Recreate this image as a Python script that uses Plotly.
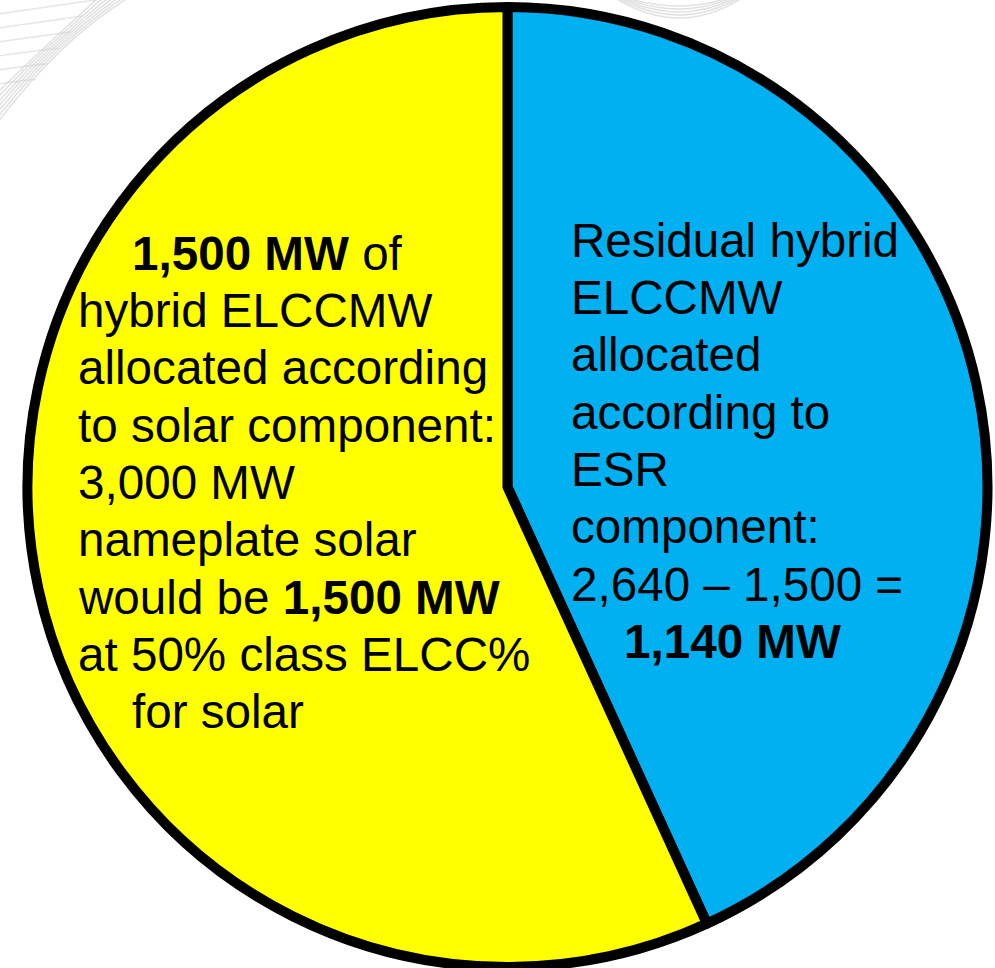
import plotly.graph_objects as go

# ---- data ----
slice_labels = ["Residual hybrid ELCCMW (ESR component)", "Hybrid ELCCMW allocated to solar component"]
slice_values = [1140, 1500]
slice_colors = ["#00B0F0", "#FFFF00"]

left_lines = [
    "<b>1,500 MW</b> of",
    "hybrid ELCCMW",
    "allocated according",
    "to solar component:",
    "3,000 MW",
    "nameplate solar",
    "would be <b>1,500 MW</b>",
    "at 50% class ELCC%",
    "for solar",
]
left_indent = [1, 0, 0, 0, 0, 0, 0, 0, 1]

right_lines = [
    "Residual hybrid",
    "ELCCMW",
    "allocated",
    "according to",
    "ESR",
    "component:",
    "2,640 \u2013 1,500 =",
    "<b>1,140 MW</b>",
]
right_indent = [0, 0, 0, 0, 0, 0, 0, 1]

W, H = 995, 968
FS = 47.6
FONT = "Liberation Sans, Arial, sans-serif"


def px2paper(x, y):
    """page pixel -> paper fraction"""
    return x / W, 1 - y / H


fig = go.Figure()
fig.add_trace(go.Pie(
    labels=slice_labels,
    values=slice_values,
    marker=dict(colors=slice_colors, line=dict(color="black", width=10)),
    sort=False,
    direction="clockwise",
    rotation=0,
    textinfo="none",
    hoverinfo="label+value",
    showlegend=False,
    domain=dict(x=[27.5 / W, 987.5 / W], y=[1 - 967 / H, 1 - 7 / H]),
))

annotations = []
line_step = 57.3
for i, (t, ind) in enumerate(zip(left_lines, left_indent)):
    base = 270 + i * line_step
    x0 = 130 if ind else 76
    xp, yp = px2paper(x0, base - 0.35 * FS)
    annotations.append(dict(x=xp, y=yp, xref="paper", yref="paper", text=t,
                            showarrow=False, xanchor="left", yanchor="middle",
                            font=dict(family=FONT, size=FS, color="black")))
for i, (t, ind) in enumerate(zip(right_lines, right_indent)):
    base = 257 + i * line_step
    x0 = 622 if ind else 569
    xp, yp = px2paper(x0, base - 0.35 * FS)
    annotations.append(dict(x=xp, y=yp, xref="paper", yref="paper", text=t,
                            showarrow=False, xanchor="left", yanchor="middle",
                            font=dict(family=FONT, size=FS, color="black")))

# faint decorative background swirls (slide template artwork)
shapes = []


def path_from(points):
    pts = [px2paper(x, y) for x, y in points]
    return "M %f,%f Q %f,%f %f,%f" % (pts[0][0], pts[0][1], pts[1][0], pts[1][1], pts[2][0], pts[2][1])


for k in range(7):
    d = k * 5
    shapes.append(dict(type="path", xref="paper", yref="paper", layer="below",
                       path=path_from([(128 - d, -2), (60 - d * 0.6, 40 + d * 0.3), (-2, 122 - d)]),
                       line=dict(color="rgba(200,200,200,0.55)", width=1.5)))
for k in range(6):
    y = 8 + k * 14
    shapes.append(dict(type="path", xref="paper", yref="paper", layer="below",
                       path=path_from([(-2, y + 6), (40, y), (95 - k * 12, y - 8 + k * 2)]),
                       line=dict(color="rgba(205,205,205,0.5)", width=1.5)))
for k in range(5):
    d = k * 6
    shapes.append(dict(type="path", xref="paper", yref="paper", layer="below",
                       path=path_from([(615 + d * 0.5, -2), (680, 38 - d), (742 - d * 0.6, -2)]),
                       line=dict(color="rgba(200,200,200,0.55)", width=1.5)))

fig.update_layout(
    width=W, height=H,
    margin=dict(l=0, r=0, t=0, b=0),
    paper_bgcolor="white",
    plot_bgcolor="white",
    annotations=annotations,
    shapes=shapes,
)

fig.write_html("out.html", config={"displayModeBar": False},
               post_script="document.body.style.margin='0px';")
